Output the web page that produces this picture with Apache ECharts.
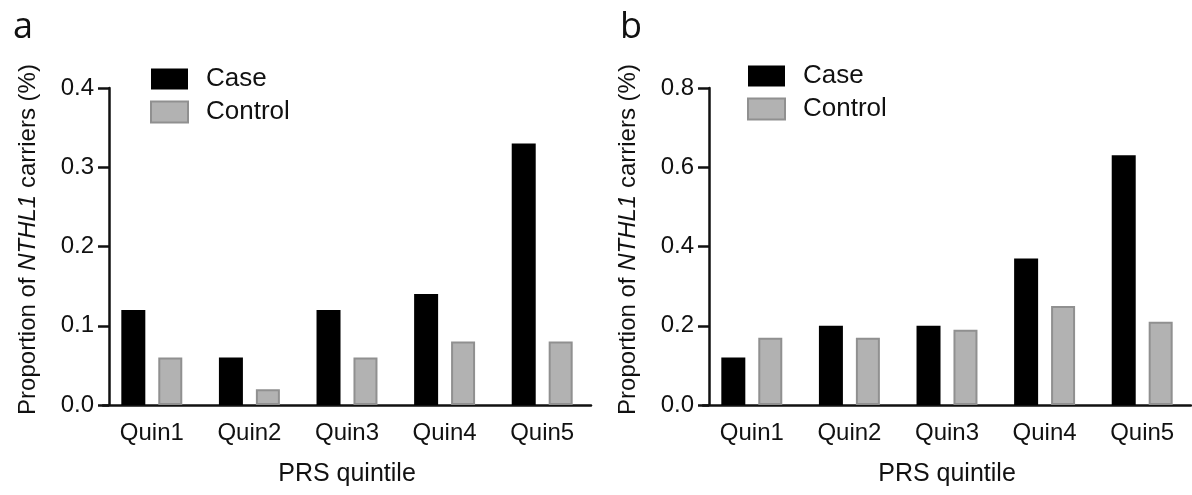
<!DOCTYPE html>
<html>
<head>
<meta charset="utf-8">
<script src="https://cdn.jsdelivr.net/npm/echarts@6/dist/echarts.min.js"></script>
<style>html,body{margin:0;padding:0;background:#fff;}#c{width:1192px;height:495px;}</style>
</head>
<body>
<div id="c"></div>
<script>
const categories = ['Quin1', 'Quin2', 'Quin3', 'Quin4', 'Quin5'];
const caseA = [0.12, 0.06, 0.12, 0.14, 0.33];
const controlA = [0.06, 0.02, 0.06, 0.08, 0.08];
const caseB = [0.12, 0.20, 0.20, 0.37, 0.63];
const controlB = [0.17, 0.17, 0.19, 0.25, 0.21];
const panelLabels = ['a', 'b'];
const seriesNames = ['Case', 'Control'];
const yMaxA = 0.4, yStepA = 0.1;
const yMaxB = 0.8, yStepB = 0.2;
const xTitle = 'PRS quintile';
const yTitle = 'Proportion of {i|NTHL1} carriers (%)';

const FONT = '"Liberation Sans", Arial, Helvetica, sans-serif';
const INK = '#111';
const chart = echarts.init(document.getElementById('c'), null, {renderer: 'canvas'});

function xAxisCfg(gi) {
  return {
    type: 'category', gridIndex: gi, data: categories,
    boundaryGap: true,
    name: xTitle, nameLocation: 'middle', nameGap: 57,
    nameTextStyle: {fontFamily: FONT, fontSize: 25, color: INK},
    axisLine: {lineStyle: {color: INK, width: 2.5}},
    axisTick: {alignWithLabel: true, length: 11, lineStyle: {color: INK, width: 2.5}},
    axisLabel: {fontFamily: FONT, fontSize: 24, color: INK, margin: 16},
    splitLine: {show: false}
  };
}
function yAxisCfg(gi, max, step) {
  return {
    type: 'value', gridIndex: gi, min: 0, max: max, interval: step,
    offset: -6,
    name: yTitle, nameLocation: 'middle', nameGap: 69, nameRotate: 90,
    nameTextStyle: {fontFamily: FONT, fontSize: 24, color: INK, padding: [0, 0, 0, 14],
      rich: {i: {fontFamily: FONT, fontSize: 24, fontStyle: 'italic', color: INK}}},
    axisLine: {show: true, lineStyle: {color: INK, width: 2.5}},
    axisTick: {show: true, length: 11, lineStyle: {color: INK, width: 2.5}},
    axisLabel: {fontFamily: FONT, fontSize: 24, color: INK, margin: 15,
      formatter: v => v.toFixed(1)},
    splitLine: {show: false}
  };
}
function caseSeries(gi, data) {
  return {
    name: seriesNames[0], type: 'bar', xAxisIndex: gi, yAxisIndex: gi,
    data: data, barWidth: 24, barGap: '54%',
    itemStyle: {color: '#000', borderColor: '#000', borderWidth: 0},
    emphasis: {disabled: true}
  };
}
function controlSeries(gi, data) {
  return {
    name: seriesNames[1], type: 'bar', xAxisIndex: gi, yAxisIndex: gi,
    data: data, barWidth: 24, barGap: '54%',
    itemStyle: {color: '#b2b2b2', borderColor: '#909090', borderWidth: 2},
    emphasis: {disabled: true}
  };
}
function legendCfg(left, top) {
  return {
    left: left, top: top, orient: 'vertical', icon: 'rect', padding: 0,
    itemWidth: 37, itemHeight: 21, itemGap: 7,
    data: seriesNames,
    textStyle: {fontFamily: FONT, fontSize: 26, color: INK, padding: [0, 0, 0, 13], lineHeight: 24},
    selectedMode: false
  };
}

const option = {
  animation: false,
  backgroundColor: '#fff',
  title: [
    {text: panelLabels[0], left: 13, top: 10, padding: 0,
      textStyle: {fontFamily: '"Open Sans", sans-serif', fontSize: 36, fontWeight: 'normal', color: INK}},
    {text: panelLabels[1], left: 620, top: 10, padding: 0,
      textStyle: {fontFamily: '"Open Sans", sans-serif', fontSize: 36, fontWeight: 'normal', color: INK}}
  ],
  legend: [legendCfg(150, 66), legendCfg(747, 63)],
  grid: [
    {left: 103, top: 88, width: 488, height: 317},
    {left: 703, top: 88, width: 488, height: 317}
  ],
  xAxis: [xAxisCfg(0), xAxisCfg(1)],
  yAxis: [yAxisCfg(0, yMaxA, yStepA), yAxisCfg(1, yMaxB, yStepB)],
  series: [
    caseSeries(0, caseA), controlSeries(0, controlA),
    caseSeries(1, caseB), controlSeries(1, controlB)
  ]
};
chart.setOption(option);
</script>
</body>
</html>
